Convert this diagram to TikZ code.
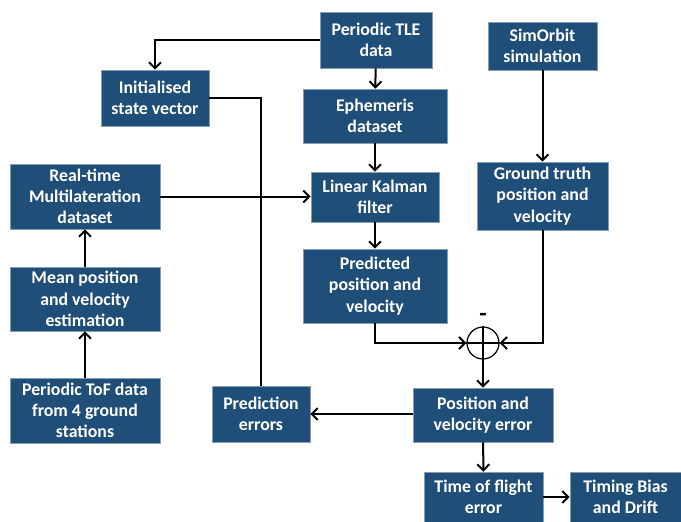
\documentclass[tikz,border=0pt]{standalone}
\usepackage{fontspec}
\setmainfont{Carlito}
\usetikzlibrary{arrows.meta}
\definecolor{boxblue}{HTML}{1F4E79}
\tikzset{
	block/.style={fill=boxblue, draw=boxblue!55!white, line width=0.6pt, text=white,
		font=\fontsize{17.8}{21.3}\selectfont\bfseries, align=center, inner sep=2pt},
	flow/.style={line width=2pt, -{Straight Barb[length=6pt,width=12pt,line width=2pt]}},
	link/.style={line width=2pt}
}
\begin{document}
\begin{tikzpicture}[x=1pt, y=-1pt]
		\useasboundingbox (0,0) rectangle (681,522);
		
		% Datos TLE y filtro
		\node[block, minimum width=112pt, minimum height=56pt] (tle) at (376,40) {Periodic TLE\\data};
		\node[block, minimum width=108pt, minimum height=56pt] (init) at (155,98) {Initialised\\state vector};
		\node[block, minimum width=144pt, minimum height=54pt] (eph) at (375,116) {Ephemeris\\dataset};
		\node[block, minimum width=128pt, minimum height=50pt] (lkf) at (375,197) {Linear Kalman\\filter};
		\node[block, minimum width=144pt, minimum height=74pt] (pred) at (375,286) {Predicted\\position and\\velocity};
		
		% Simulacion de referencia
		\node[block, minimum width=109pt, minimum height=48pt] (sim) at (542.5,46) {SimOrbit\\simulation};
		\node[block, minimum width=131pt, minimum height=68pt] (gt) at (542.5,196) {Ground truth\\position and\\velocity};
		
		% Multilateracion
		\node[block, minimum width=150pt, minimum height=65pt] (rtm) at (85,196.5) {Real-time\\Multilateration\\dataset};
		\node[block, minimum width=150pt, minimum height=64pt] (mean) at (85,299) {Mean position\\and velocity\\estimation};
		\node[block, minimum width=150pt, minimum height=65pt] (tof) at (85,410.5) {Periodic ToF data\\from 4 ground\\stations};
		
		% Errores
		\node[draw, circle, line width=1.2pt, minimum size=32pt, inner sep=0pt] (sum) at (483,343) {};
		\draw[line width=1.2pt] (sum.north) -- (sum.south);
		\draw[line width=1.2pt] (sum.west) -- (sum.east);
		\node[font=\fontsize{24}{24}\selectfont\bfseries, inner sep=0pt] (minus) at (483,317) {-};
		\node[block, minimum width=98pt, minimum height=56pt] (perr) at (261,414) {Prediction\\errors};
		\node[block, minimum width=140pt, minimum height=54pt] (pve) at (483,415) {Position and\\velocity error};
		\node[block, minimum width=119pt, minimum height=50pt] (tfe) at (483.5,497) {Time of flight\\error};
		\node[block, minimum width=111pt, minimum height=50pt] (tbd) at (625.5,497) {Timing Bias\\and Drift};
		
		% Conexiones
		\draw[flow] (tle.west) -| (init.north);
		\draw[flow] (tle) -- (eph);
		\draw[flow] (eph) -- (lkf);
		\draw[flow] (lkf) -- (pred);
		\draw[flow] (rtm.east) -- (rtm.east -| lkf.west);
		\draw[link] (init.east) -| (perr.north);
		\draw[flow] (tof) -- (mean);
		\draw[flow] (mean) -- (rtm);
		\draw[flow] (sim) -- (gt);
		\draw[flow] (pred.south) |- (sum.west);
		\draw[flow] (gt.south) |- (sum.east);
		\draw[flow] (sum) -- (pve);
		\draw[flow] (pve.west |- perr.east) -- (perr.east);
		\draw[flow] (pve) -- (tfe);
		\draw[flow] (tfe) -- (tbd);
		
	\end{tikzpicture}
\end{document}
